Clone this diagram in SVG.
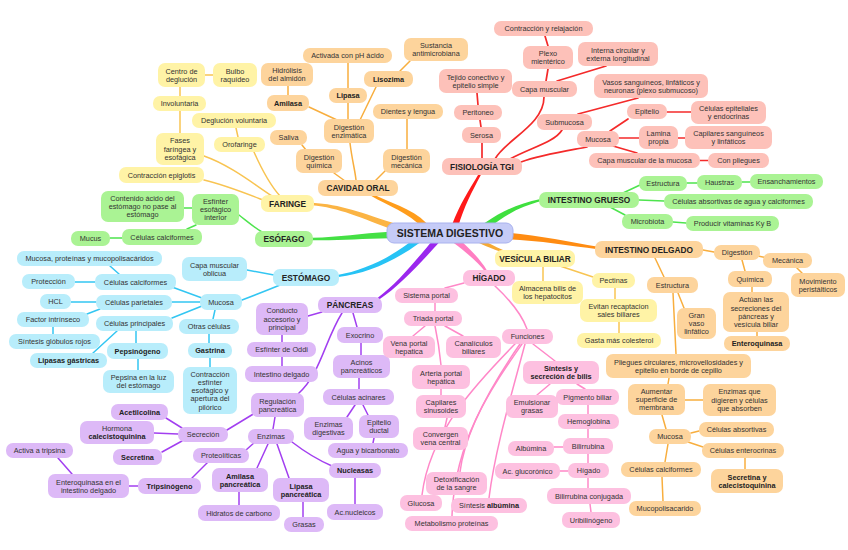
<svg xmlns="http://www.w3.org/2000/svg" width="848" height="550" viewBox="0 0 848 550">
<style>
text{font-family:"Liberation Sans",Arial,Helvetica,sans-serif;font-size:7.3px;fill:#333;text-anchor:middle}
.b{font-weight:bold;fill:#222}
.cat text{font-size:8.3px;font-weight:bold;fill:#222}
rect{rx:7px;ry:7px}
.y rect{fill:#fff3a6}.o rect{fill:#fdd49c}.r rect{fill:#fdc1b9}.g rect{fill:#aaf394}.bl rect{fill:#b8edfb}.p rect{fill:#ddb9f7}.k rect{fill:#fdc0e0}
#center rect{fill:#c5cbf7;stroke:#a9b2ee;stroke-width:1}
#center text{font-size:10.5px;font-weight:bold;fill:#222}
#connectors path{fill:none;stroke-linecap:round}
#connectors path.m{stroke:none}
.ly{stroke:#f8c452;stroke-width:1.5}.lo{stroke:#f8ae3e;stroke-width:1.5}.lr{stroke:#f42a2a;stroke-width:1.7}.lg{stroke:#4ee44e;stroke-width:1.5}.lb{stroke:#33c6f2;stroke-width:1.5}.lp{stroke:#a23ff0;stroke-width:1.5}.lk{stroke:#ff88c8;stroke-width:1.5}
</style>
<rect x="0" y="0" width="848" height="550" fill="#fff" style="rx:0"/>
<g id="connectors">
<!-- main branches (tapered) -->
<path class="m" style="fill:#ff1a1a" d="M457.9,227.4 C464.3,206.1 471.5,192.7 481.1,174.5 L478.9,173.5 C468.5,191.3 459.8,203.9 452.1,224.6 Z"/>
<path class="m" style="fill:#ff9d1c" d="M426.6,223.2 C411.3,207.8 388.9,202.5 372.6,194 L371.4,196 C387.1,205.5 408.7,212.2 423.4,228.8 Z"/>
<path class="m" style="fill:#fbb444" d="M398.9,224.9 C360.7,212.6 340.5,204.4 312.3,202.8 L311.7,205.2 C339.5,207.6 359.3,217.4 397.1,231.1 Z"/>
<path class="m" style="fill:#44e044" d="M390,231.8 C360,233.5 340,237.3 312,237.8 L312,240.2 C340,240.7 360,238.5 390,238.2 Z"/>
<path class="m" style="fill:#27c3f5" d="M419.3,242.9 C393,262.3 365.7,273.6 338.5,277.1 L337.5,274.9 C364.3,270.5 391,257.7 416.7,237.1 Z"/>
<path class="m" style="fill:#9b27ee" d="M439.3,242.3 C419.8,263.8 399.2,286.2 378.8,299.8 L377.2,298.2 C396.8,283.8 416.2,260.2 434.7,237.7 Z"/>
<path class="m" style="fill:#ff7ec2" d="M457.3,237.7 C471.8,250.2 481.2,260.8 486.8,270.2 L485.2,271.8 C478.8,263.2 468.2,253.8 452.7,242.3 Z"/>
<path class="m" style="fill:#f6a933" d="M480.9,239 C490.7,244.4 497.6,247.7 505.4,251 L504.6,253 C496.4,250.3 489.3,247.7 479.1,243 Z"/>
<path class="m" style="fill:#ff8c12" d="M508.4,232.8 C540.3,235.5 570.2,242.3 598.2,246.8 L597.8,249.2 C569.8,245.7 539.7,240.5 507.6,239.2 Z"/>
<path class="m" style="fill:#3fe03f" d="M487.4,228.9 C506.1,214.3 520.7,206.5 541.5,201.1 L540.5,198.9 C519.3,203.5 503.9,209.7 484.6,223.1 Z"/>
<!-- faringe -->
<path class="ly" d="M204,156 C230,165 255,185 272,196"/>
<path class="ly" d="M254,152 C262,170 270,185 280,196"/>
<path class="ly" d="M204,180 C225,185 245,193 263,200"/>
<path class="ly" d="M205,75 L213,75"/>
<path class="ly" d="M180,87 L180,96"/>
<path class="ly" d="M180,111 L180,133"/>
<path class="ly" d="M236,128 L238,137"/>
<!-- cavidad oral -->
<path class="lo" d="M350,143 C352,160 355,170 356,180"/>
<path class="lo" d="M334,173 L345,181"/>
<path class="lo" d="M387,169 L375,181"/>
<path class="lo" d="M348,63 L348,88"/>
<path class="lo" d="M348,103 L348,119"/>
<path class="lo" d="M410,61 L400,71"/>
<path class="lo" d="M376,87 L360,120"/>
<path class="lo" d="M288,86 L288,95"/>
<path class="lo" d="M309,107 L337,120"/>
<path class="lo" d="M302,145 L306,150"/>
<path class="lo" d="M407,119 L407,149"/>
<!-- fisiologia -->
<path class="lr" d="M544,97 C544,125 505,140 495,159"/>
<path class="lr" d="M562,130 C555,142 530,148 510,159"/>
<path class="lr" d="M587,147 C560,152 540,155 521,162"/>
<path class="lr" d="M482,143 L482,158"/>
<path class="lr" d="M480,120 L481,127"/>
<path class="lr" d="M477,93 L478,105"/>
<path class="lr" d="M545,36 L548,46"/>
<path class="lr" d="M548,69 L546,81"/>
<path class="lr" d="M606,66 L557,81"/>
<path class="lr" d="M638,98 L578,114"/>
<path class="lr" d="M628,119 L610,131"/>
<path class="lr" d="M667,112 L691,112"/>
<path class="lr" d="M619,138 L639,138"/>
<path class="lr" d="M678,138 L685,138"/>
<path class="lr" d="M613,146 L637,153"/>
<path class="lr" d="M700,160.5 L708,160.5"/>
<!-- intestino grueso / esofago -->
<path class="lg" d="M623,193 L640,185"/>
<path class="lg" d="M639,200 L664,201"/>
<path class="lg" d="M610,207 L625,215"/>
<path class="lg" d="M687,183 L697,183"/>
<path class="lg" d="M742,182 L750,182"/>
<path class="lg" d="M673,222 L686,223"/>
<path class="lg" d="M239,215 C248,222 255,228 262,232"/>
<path class="lg" d="M184,208 L192,208"/>
<path class="lg" d="M196,225 L187,229"/>
<path class="lg" d="M110,238 L122,238"/>
<!-- estomago -->
<path class="lb" d="M247,270 L274,275"/>
<path class="lb" d="M242,300 C255,295 268,290 280,285"/>
<path class="lb" d="M110,266 L119,274"/>
<path class="lb" d="M75,282 L95,282"/>
<path class="lb" d="M172,287 L202,298"/>
<path class="lb" d="M71,302 L96,302"/>
<path class="lb" d="M172,302 L200,302"/>
<path class="lb" d="M87,314 L100,309"/>
<path class="lb" d="M53,327 L53,334"/>
<path class="lb" d="M172,318 L202,306"/>
<path class="lb" d="M117,331 L93,353"/>
<path class="lb" d="M136,331 L136,343"/>
<path class="lb" d="M138,359 L138,370"/>
<path class="lb" d="M215,310 L213,319"/>
<path class="lb" d="M209,334 L209,343"/>
<path class="lb" d="M210,358 L210,367"/>
<!-- pancreas -->
<path class="lp" d="M322,312 L308,316"/>
<path class="lp" d="M342,313 C325,340 320,375 298,394"/>
<path class="lp" d="M353,313 L357,327"/>
<path class="lp" d="M282,335 L282,342"/>
<path class="lp" d="M282,357 L282,366"/>
<path class="lp" d="M361,343 L361,355"/>
<path class="lp" d="M359,378 L359,389"/>
<path class="lp" d="M355,405 L347,417"/>
<path class="lp" d="M363,405 L368,415"/>
<path class="lp" d="M374,438 L373,443"/>
<path class="lp" d="M255,413 L227,430"/>
<path class="lp" d="M275,417 L273,429"/>
<path class="lp" d="M182,428 L166,418"/>
<path class="lp" d="M178,434 L154,433"/>
<path class="lp" d="M182,441 L162,452"/>
<path class="lp" d="M255,442 L246,450"/>
<path class="lp" d="M207,463 L192,478"/>
<path class="lp" d="M129,486 L138,486"/>
<path class="lp" d="M72,474 L58,458"/>
<path class="lp" d="M268,444 L257,468"/>
<path class="lp" d="M277,444 L289,478"/>
<path class="lp" d="M292,442 C305,452 318,460 332,466"/>
<path class="lp" d="M239,492 L239,505"/>
<path class="lp" d="M303,502 L303,517"/>
<path class="lp" d="M355,478 L355,504"/>
<!-- higado -->
<path class="lk" d="M464,283 L445,288"/>
<path class="lk" d="M495,286 C510,300 522,315 527,329"/>
<path class="lk" d="M435,303 L435,311"/>
<path class="lk" d="M425,326 L413,336"/>
<path class="lk" d="M445,326 L463,336"/>
<path class="lk" d="M435,326 C438,340 440,355 441,365"/>
<path class="lk" d="M441,389 L441,395"/>
<path class="lk" d="M447,418 L445,427"/>
<path class="lk" d="M515,344 C480,380 430,430 422,495"/>
<path class="lk" d="M520,344 C495,380 465,430 460,472"/>
<path class="lk" d="M522,344 C490,390 455,440 452,516"/>
<path class="lk" d="M525,344 C510,400 495,450 489,498"/>
<path class="lk" d="M533,344 L555,361"/>
<path class="lk" d="M550,384 L537,395"/>
<path class="lk" d="M577,384 L585,389"/>
<path class="lk" d="M588,405 L588,414"/>
<path class="lk" d="M588,429 L588,438"/>
<path class="lk" d="M554,447 L563,447"/>
<path class="lk" d="M588,454 L588,463"/>
<path class="lk" d="M560,471 L568,471"/>
<path class="lk" d="M588,478 L588,488"/>
<path class="lk" d="M590,504 L591,512"/>
<!-- intestino delgado -->
<path class="lo" d="M703,250 L714,252"/>
<path class="lo" d="M655,258 L664,277"/>
<path class="lo" d="M758,256 L767,258"/>
<path class="lo" d="M742,260 L745,271"/>
<path class="lo" d="M797,268 L802,273"/>
<path class="lo" d="M752,287 L752,292"/>
<path class="lo" d="M757,332 L757,336"/>
<path class="lo" d="M678,293 L684,308"/>
<path class="lo" d="M673,293 L676,354"/>
<path class="lo" d="M669,378 L668,384"/>
<path class="lo" d="M685,400 L703,400"/>
<path class="lo" d="M662,415 L666,429"/>
<path class="lo" d="M691,433 L699,431"/>
<path class="lo" d="M688,442 L703,447"/>
<path class="lo" d="M745,458 L745,469"/>
<path class="lo" d="M668,444 L665,462"/>
<path class="lo" d="M662,477 L663,501"/>
<!-- vesicula -->
<path class="ly" d="M543,267 L543,281"/>
<path class="ly" d="M560,266 L593,277"/>
<path class="ly" d="M615,288 L615,299"/>
<path class="ly" d="M619,322 L619,333"/>
</g>

<g id="center"><rect x="387" y="223" width="126" height="20" rx="8"/><text x="450" y="236.8">SISTEMA DIGESTIVO</text></g>

<!-- categories -->
<g id="cavidad-oral" class="cat o"><rect x="318" y="180" width="80" height="16"/><text x="358" y="191">CAVIDAD ORAL</text></g>
<g id="faringe" class="cat y"><rect x="261" y="195" width="53" height="17"/><text x="287.5" y="206.5">FARINGE</text></g>
<g id="esofago" class="cat g"><rect x="255" y="231" width="58" height="16"/><text x="284" y="242">ESÓFAGO</text></g>
<g id="estomago" class="cat bl"><rect x="273" y="269" width="66" height="17"/><text x="306" y="280.5">ESTÓMAGO</text></g>
<g id="pancreas" class="cat p"><rect x="318" y="297" width="64" height="16"/><text x="350" y="308">PÁNCREAS</text></g>
<g id="higado" class="cat k"><rect x="463" y="270" width="52" height="16"/><text x="489" y="281">HÍGADO</text></g>
<g id="vesicula" class="cat y"><rect x="495" y="250" width="80" height="17"/><text x="535" y="261.5">VESÍCULA BILIAR</text></g>
<g id="int-delgado" class="cat o"><rect x="595" y="241" width="108" height="17"/><text x="649" y="252.5">INTESTINO DELGADO</text></g>
<g id="int-grueso" class="cat g"><rect x="539" y="192" width="100" height="16"/><text x="589" y="203">INTESTINO GRUESO</text></g>
<g id="fisiologia" class="cat r"><rect x="442" y="158" width="80" height="17"/><text x="482" y="169.5">FISIOLOGÍA TGI</text></g>

<!-- faringe nodes -->
<g id="centro-deglucion" class="y"><rect x="158" y="63" width="47" height="24"/><text x="181.5" y="73.5">Centro de<tspan x="181.5" dy="8.2">deglución</tspan></text></g>
<g id="bulbo" class="y"><rect x="213" y="63" width="44" height="24"/><text x="235" y="73.5">Bulbo<tspan x="235" dy="8.2">raquídeo</tspan></text></g>
<g id="involuntaria" class="y"><rect x="153" y="96" width="53" height="15"/><text x="179.5" y="106.1">Involuntaria</text></g>
<g id="deglucion-voluntaria" class="y"><rect x="192" y="113" width="84" height="15"/><text x="234" y="123.1">Deglución voluntaria</text></g>
<g id="orofaringe" class="y"><rect x="214" y="137" width="51" height="15"/><text x="239.5" y="147.1">Orofaringe</text></g>
<g id="fases" class="y"><rect x="156" y="133" width="48" height="32"/><text x="180" y="143.4">Fases<tspan x="180" dy="8.2">faríngea y</tspan><tspan x="180" dy="8.2">esofágica</tspan></text></g>
<g id="contraccion-epiglotis" class="y"><rect x="119" y="167" width="85" height="16"/><text x="161.5" y="177.6">Contracción epiglotis</text></g>

<!-- cavidad oral nodes -->
<g id="activada" class="o"><rect x="303" y="48" width="89" height="15"/><text x="347.5" y="58.1">Activada con pH ácido</text></g>
<g id="sustancia" class="o"><rect x="404" y="38" width="64" height="23"/><text x="436" y="48">Sustancia<tspan x="436" dy="8.2">antimicrobiana</tspan></text></g>
<g id="hidrolisis" class="o"><rect x="261" y="63" width="52" height="23"/><text x="287" y="73">Hidrólisis<tspan x="287" dy="8.2">del almidón</tspan></text></g>
<g id="lisozima" class="o"><rect x="364" y="71" width="49" height="16"/><text class="b" x="388.5" y="81.6">Lisozima</text></g>
<g id="lipasa" class="o"><rect x="329" y="88" width="38" height="15"/><text class="b" x="348" y="98.1">Lipasa</text></g>
<g id="amilasa" class="o"><rect x="267" y="95" width="42" height="16"/><text class="b" x="288" y="105.6">Amilasa</text></g>
<g id="dientes" class="o"><rect x="373" y="104" width="70" height="15"/><text x="408" y="114.1">Dientes y lengua</text></g>
<g id="saliva" class="o"><rect x="270" y="130" width="37" height="15"/><text x="288.5" y="140.1">Saliva</text></g>
<g id="dig-enzimatica" class="o"><rect x="324" y="119" width="50" height="24"/><text x="349" y="129.5">Digestión<tspan x="349" dy="8.2">enzimática</tspan></text></g>
<g id="dig-quimica" class="o"><rect x="296" y="149" width="46" height="24"/><text x="319" y="159.5">Digestión<tspan x="319" dy="8.2">química</tspan></text></g>
<g id="dig-mecanica" class="o"><rect x="383" y="149" width="47" height="24"/><text x="406.5" y="159.5">Digestión<tspan x="406.5" dy="8.2">mecánica</tspan></text></g>

<!-- fisiologia nodes -->
<g id="contraccion-relajacion" class="r"><rect x="494" y="21" width="99" height="15"/><text x="543.5" y="31.1">Contracción y relajación</text></g>
<g id="plexo" class="r"><rect x="523" y="46" width="50" height="23"/><text x="548" y="56">Plexo<tspan x="548" dy="8.2">mientérico</tspan></text></g>
<g id="interna" class="r"><rect x="578" y="42" width="80" height="24"/><text x="618" y="52.5">Interna circular y<tspan x="618" dy="8.2">externa longitudinal</tspan></text></g>
<g id="capa-muscular" class="r"><rect x="512" y="81" width="65" height="16"/><text x="544.5" y="91.6">Capa muscular</text></g>
<g id="tejido" class="r"><rect x="439" y="69" width="73" height="24"/><text x="475.5" y="79.5">Tejido conectivo y<tspan x="475.5" dy="8.2">epitelio simple</tspan></text></g>
<g id="peritoneo" class="r"><rect x="454" y="105" width="48" height="15"/><text x="478" y="115.1">Peritoneo</text></g>
<g id="serosa" class="r"><rect x="462" y="127" width="39" height="16"/><text x="481.5" y="137.6">Serosa</text></g>
<g id="vasos" class="r"><rect x="594" y="74" width="114" height="24"/><text x="651" y="84.5">Vasos sanguíneos, linfáticos y<tspan x="651" dy="8.2">neuronas (plexo submucoso)</tspan></text></g>
<g id="submucosa" class="r"><rect x="537" y="114" width="55" height="16"/><text x="564.5" y="124.6">Submucosa</text></g>
<g id="epitelio" class="r"><rect x="627" y="104" width="40" height="15"/><text x="647" y="114.1">Epitelio</text></g>
<g id="celulas-epiteliales" class="r"><rect x="691" y="101" width="75" height="23"/><text x="728.5" y="111">Células epiteliales<tspan x="728.5" dy="8.2">y endocrinas</tspan></text></g>
<g id="mucosa-tgi" class="r"><rect x="577" y="131" width="42" height="16"/><text x="598" y="141.6">Mucosa</text></g>
<g id="lamina" class="r"><rect x="639" y="126" width="39" height="23"/><text x="658.5" y="136">Lamina<tspan x="658.5" dy="8.2">propia</tspan></text></g>
<g id="capilares-sang" class="r"><rect x="685" y="126" width="87" height="23"/><text x="728.5" y="136">Capilares sanguíneos<tspan x="728.5" dy="8.2">y linfáticos</tspan></text></g>
<g id="capa-muscular-mucosa" class="r"><rect x="589" y="153" width="111" height="15"/><text x="644.5" y="163.1">Capa muscular de la mucosa</text></g>
<g id="con-pliegues" class="r"><rect x="708" y="153" width="61" height="15"/><text x="738.5" y="163.1">Con pliegues</text></g>

<!-- intestino grueso nodes -->
<g id="estructura-ig" class="g"><rect x="639" y="176" width="48" height="15"/><text x="663" y="186.1">Estructura</text></g>
<g id="haustras" class="g"><rect x="697" y="175" width="45" height="15"/><text x="719.5" y="185.1">Haustras</text></g>
<g id="ensanchamientos" class="g"><rect x="750" y="174" width="73" height="15"/><text x="786.5" y="184.1">Ensanchamientos</text></g>
<g id="celulas-absortivas-agua" class="g"><rect x="664" y="194" width="149" height="15"/><text x="738.5" y="204.1">Células absortivas de agua y calciformes</text></g>
<g id="microbiota" class="g"><rect x="622" y="214" width="51" height="15"/><text x="647.5" y="224.1">Microbiota</text></g>
<g id="producir" class="g"><rect x="686" y="216" width="93" height="15"/><text x="732.5" y="226.1">Producir vitaminas Ky B</text></g>

<!-- esofago nodes -->
<g id="contenido" class="g"><rect x="101" y="191" width="83" height="31"/><text x="142.5" y="200.9">Contenido ácido del<tspan x="142.5" dy="8.2">estómago no pase al</tspan><tspan x="142.5" dy="8.2">estómago</tspan></text></g>
<g id="esfinter-esofagico" class="g"><rect x="192" y="194" width="47" height="31"/><text x="215.5" y="203.9">Esfínter<tspan x="215.5" dy="8.2">esofágico</tspan><tspan x="215.5" dy="8.2">interior</tspan></text></g>
<g id="calciformes-esof" class="g"><rect x="122" y="229" width="80" height="16"/><text x="162" y="239.6">Células calciformes</text></g>
<g id="mucus" class="g"><rect x="71" y="231" width="39" height="15"/><text x="90.5" y="241.1">Mucus</text></g>

<!-- estomago nodes -->
<g id="mucosa-proteinas" class="bl"><rect x="17" y="251" width="145" height="15"/><text x="89.5" y="261.1">Mucosa, proteínas y mucopolisacáridos</text></g>
<g id="proteccion" class="bl"><rect x="22" y="274" width="53" height="15"/><text x="48.5" y="284.1">Protección</text></g>
<g id="calciformes-est" class="bl"><rect x="95" y="274" width="81" height="16"/><text x="135.5" y="284.6">Células calciformes</text></g>
<g id="hcl" class="bl"><rect x="40" y="294" width="31" height="15"/><text x="55.5" y="304.1">HCL</text></g>
<g id="parietales" class="bl"><rect x="96" y="295" width="76" height="15"/><text x="134" y="305.1">Células parietales</text></g>
<g id="factor" class="bl"><rect x="17" y="312" width="72" height="15"/><text x="53" y="322.1">Factor intrínseco</text></g>
<g id="principales" class="bl"><rect x="96" y="316" width="77" height="15"/><text x="134.5" y="326.1">Células principales</text></g>
<g id="sintesis-globulos" class="bl"><rect x="9" y="334" width="91" height="15"/><text x="54.5" y="344.1">Síntesis glóbulos rojos</text></g>
<g id="lipasas-gastricas" class="bl"><rect x="30" y="353" width="77" height="15"/><text class="b" x="68.5" y="363.1">Lipasas gástricas</text></g>
<g id="pepsinogeno" class="bl"><rect x="107" y="343" width="61" height="16"/><text class="b" x="137.5" y="353.6">Pepsinógeno</text></g>
<g id="pepsina" class="bl"><rect x="103" y="370" width="71" height="23"/><text x="138.5" y="380">Pepsina en la luz<tspan x="138.5" dy="8.2">del estómago</tspan></text></g>
<g id="mucosa-est" class="bl"><rect x="200" y="294" width="42" height="16"/><text x="221" y="304.6">Mucosa</text></g>
<g id="otras-celulas" class="bl"><rect x="179" y="319" width="60" height="15"/><text x="209" y="329.1">Otras células</text></g>
<g id="gastrina" class="bl"><rect x="188" y="343" width="44" height="15"/><text class="b" x="210" y="353.1">Gastrina</text></g>
<g id="contraccion-esfinter" class="bl"><rect x="183" y="367" width="54" height="47"/><text x="210" y="376.7">Contracción<tspan x="210" dy="8.2">esfínter</tspan><tspan x="210" dy="8.2">esofágico y</tspan><tspan x="210" dy="8.2">apertura del</tspan><tspan x="210" dy="8.2">pilórico</tspan></text></g>
<g id="capa-oblicua" class="bl"><rect x="182" y="257" width="65" height="24"/><text x="214.5" y="267.5">Capa muscular<tspan x="214.5" dy="8.2">oblicua</tspan></text></g>

<!-- pancreas nodes -->
<g id="conducto" class="p"><rect x="256" y="303" width="52" height="32"/><text x="282" y="313.4">Conducto<tspan x="282" dy="8.2">accesorio y</tspan><tspan x="282" dy="8.2">principal</tspan></text></g>
<g id="oddi" class="p"><rect x="247" y="342" width="69" height="15"/><text x="281.5" y="352.1">Esfínter de Oddi</text></g>
<g id="intestino-delgado-p" class="p"><rect x="245" y="366" width="73" height="16"/><text x="281.5" y="376.6">Intestino delgado</text></g>
<g id="exocrino" class="p"><rect x="337" y="327" width="46" height="16"/><text x="360" y="337.6">Exocrino</text></g>
<g id="acinos" class="p"><rect x="333" y="355" width="57" height="23"/><text x="361.5" y="365">Acinos<tspan x="361.5" dy="8.2">pancreáticos</tspan></text></g>
<g id="acinares" class="p"><rect x="323" y="389" width="71" height="16"/><text x="358.5" y="399.6">Células acinares</text></g>
<g id="regulacion" class="p"><rect x="251" y="393" width="53" height="24"/><text x="277.5" y="403.5">Regulación<tspan x="277.5" dy="8.2">pancreática</tspan></text></g>
<g id="enzimas-digestivas" class="p"><rect x="304" y="417" width="49" height="23"/><text x="328.5" y="427">Enzimas<tspan x="328.5" dy="8.2">digestivas</tspan></text></g>
<g id="epitelio-ductal" class="p"><rect x="359" y="415" width="40" height="23"/><text x="379" y="425">Epitelio<tspan x="379" dy="8.2">ductal</tspan></text></g>
<g id="agua" class="p"><rect x="328" y="443" width="80" height="15"/><text x="368" y="453.1">Agua y bicarbonato</text></g>
<g id="secrecion" class="p"><rect x="178" y="427" width="50" height="15"/><text x="203" y="437.1">Secreción</text></g>
<g id="enzimas" class="p"><rect x="248" y="429" width="46" height="15"/><text x="271" y="439.1">Enzimas</text></g>
<g id="proteoliticas" class="p"><rect x="193" y="448" width="56" height="15"/><text x="221" y="458.1">Proteolíticas</text></g>
<g id="amilasa-pan" class="p"><rect x="212" y="468" width="56" height="24"/><text class="b" x="240" y="478.5">Amilasa<tspan x="240" dy="8.2">pancreática</tspan></text></g>
<g id="lipasa-pan" class="p"><rect x="273" y="478" width="56" height="24"/><text class="b" x="301" y="488.5">Lipasa<tspan x="301" dy="8.2">pancreática</tspan></text></g>
<g id="nucleasas" class="p"><rect x="329" y="463" width="52" height="15"/><text class="b" x="355" y="473.1">Nucleasas</text></g>
<g id="hidratos" class="p"><rect x="198" y="505" width="82" height="16"/><text x="239" y="515.6">Hidratos de carbono</text></g>
<g id="grasas" class="p"><rect x="284" y="517" width="40" height="15"/><text x="304" y="527.1">Grasas</text></g>
<g id="acnucleicos" class="p"><rect x="327" y="504" width="56" height="16"/><text x="355" y="514.6">Ac.nucleicos</text></g>
<g id="acetilcolina" class="p"><rect x="111" y="404" width="57" height="16"/><text class="b" x="139.5" y="414.6">Acetilcolina</text></g>
<g id="hormona" class="p"><rect x="80" y="421" width="74" height="23"/><text x="117" y="431">Hormona<tspan class="b" x="117" dy="8.2">calecistoquinina</tspan></text></g>
<g id="secretina" class="p"><rect x="113" y="449" width="49" height="16"/><text class="b" x="137.5" y="459.6">Secretina</text></g>
<g id="activa" class="p"><rect x="6" y="443" width="67" height="15"/><text x="39.5" y="453.1">Activa a tripsina</text></g>
<g id="enteroquinasa-int" class="p"><rect x="48" y="474" width="81" height="24"/><text x="88.5" y="484.5">Enteroquinasa en el<tspan x="88.5" dy="8.2">intestino delgado</tspan></text></g>
<g id="tripsinogeno" class="p"><rect x="138" y="478" width="63" height="16"/><text class="b" x="169.5" y="488.6">Tripsinógeno</text></g>

<!-- higado nodes -->
<g id="sistema-portal" class="k"><rect x="395" y="288" width="63" height="15"/><text x="426.5" y="298.1">Sistema portal</text></g>
<g id="triada" class="k"><rect x="404" y="311" width="58" height="15"/><text x="433" y="321.1">Triada portal</text></g>
<g id="vena-portal" class="k"><rect x="383" y="336" width="52" height="22"/><text x="409" y="345.5">Vena portal<tspan x="409" dy="8.2">hepatica</tspan></text></g>
<g id="canaliculos" class="k"><rect x="446" y="336" width="55" height="22"/><text x="473.5" y="345.5">Canalículos<tspan x="473.5" dy="8.2">biliares</tspan></text></g>
<g id="funciones" class="k"><rect x="502" y="329" width="51" height="15"/><text x="527.5" y="339.1">Funciones</text></g>
<g id="arteria" class="k"><rect x="412" y="365" width="58" height="24"/><text x="441" y="375.5">Arteria portal<tspan x="441" dy="8.2">hepática</tspan></text></g>
<g id="capilares-sin" class="k"><rect x="416" y="395" width="50" height="23"/><text x="441" y="405">Capilares<tspan x="441" dy="8.2">sinusoides</tspan></text></g>
<g id="convergen" class="k"><rect x="413" y="427" width="55" height="23"/><text x="440.5" y="437">Convergen<tspan x="440.5" dy="8.2">vena central</tspan></text></g>
<g id="sintesis-bilis" class="k"><rect x="523" y="361" width="76" height="23"/><text class="b" x="561" y="371">Síntesis y<tspan x="561" dy="8.2">secreción de bilis</tspan></text></g>
<g id="emulsionar" class="k"><rect x="506" y="395" width="52" height="23"/><text x="532" y="405">Emulsionar<tspan x="532" dy="8.2">grasas</tspan></text></g>
<g id="pigmento" class="k"><rect x="556" y="389" width="63" height="16"/><text x="587.5" y="399.6">Pigmento biliar</text></g>
<g id="hemoglobina" class="k"><rect x="558" y="414" width="61" height="15"/><text x="588.5" y="424.1">Hemoglobina</text></g>
<g id="bilirrubina" class="k"><rect x="563" y="438" width="50" height="16"/><text x="588" y="448.6">Bilirrubina</text></g>
<g id="albumina" class="k"><rect x="508" y="441" width="46" height="15"/><text x="531" y="451.1">Albúmina</text></g>
<g id="higado-n" class="k"><rect x="568" y="463" width="41" height="15"/><text x="588.5" y="473.1">Hígado</text></g>
<g id="glucoronico" class="k"><rect x="495" y="463" width="65" height="16"/><text x="527.5" y="473.6">Ac. glucorónico</text></g>
<g id="bilirrubina-conj" class="k"><rect x="547" y="488" width="84" height="16"/><text x="589" y="498.6">Bilirrubina conjugada</text></g>
<g id="uribilinogeno" class="k"><rect x="562" y="512" width="58" height="16"/><text x="591" y="522.6">Uribilinógeno</text></g>
<g id="detox" class="k"><rect x="426" y="472" width="61" height="23"/><text x="456.5" y="482">Detoxificación<tspan x="456.5" dy="8.2">de la sangre</tspan></text></g>
<g id="glucosa" class="k"><rect x="400" y="495" width="42" height="16"/><text x="421" y="505.6">Glucosa</text></g>
<g id="sintesis-albumina" class="k"><rect x="451" y="498" width="76" height="15"/><text x="489" y="508.1">Síntesis <tspan class="b">albúmina</tspan></text></g>
<g id="metabolismo" class="k"><rect x="405" y="516" width="93" height="15"/><text x="451.5" y="526.1">Metabolismo proteínas</text></g>

<!-- vesicula nodes -->
<g id="almacena" class="y"><rect x="512" y="281" width="71" height="23"/><text x="547.5" y="291">Almacena bilis de<tspan x="547.5" dy="8.2">los hepatocitos</tspan></text></g>
<g id="pectinas" class="y"><rect x="592" y="273" width="43" height="15"/><text x="613.5" y="283.1">Pectinas</text></g>
<g id="evitan" class="y"><rect x="580" y="299" width="77" height="23"/><text x="618.5" y="309">Evitan recaptacion<tspan x="618.5" dy="8.2">sales biliares</tspan></text></g>
<g id="gasta" class="y"><rect x="577" y="333" width="84" height="15"/><text x="619" y="343.1">Gasta más colesterol</text></g>

<!-- intestino delgado nodes -->
<g id="digestion-id" class="o"><rect x="714" y="245" width="46" height="15"/><text x="737" y="255.1">Digestión</text></g>
<g id="mecanica" class="o"><rect x="763" y="253" width="49" height="15"/><text x="787.5" y="263.1">Mecánica</text></g>
<g id="quimica" class="o"><rect x="728" y="271" width="44" height="16"/><text x="750" y="281.6">Química</text></g>
<g id="movimiento" class="o"><rect x="791" y="273" width="54" height="24"/><text x="818" y="283.5">Movimiento<tspan x="818" dy="8.2">peristálticos</tspan></text></g>
<g id="actuan" class="o"><rect x="723" y="292" width="66" height="40"/><text x="756" y="302.3">Actúan las<tspan x="756" dy="8.2">secreciones del</tspan><tspan x="756" dy="8.2">páncreas y</tspan><tspan x="756" dy="8.2">vesícula biliar</tspan></text></g>
<g id="enteroquinasa" class="o"><rect x="724" y="336" width="66" height="15"/><text class="b" x="757" y="346.1">Enteroquinasa</text></g>
<g id="estructura-id" class="o"><rect x="647" y="277" width="51" height="16"/><text x="672.5" y="287.6">Estructura</text></g>
<g id="gran-vaso" class="o"><rect x="677" y="308" width="39" height="31"/><text x="696.5" y="317.9">Gran<tspan x="696.5" dy="8.2">vaso</tspan><tspan x="696.5" dy="8.2">linfático</tspan></text></g>
<g id="pliegues" class="o"><rect x="606" y="354" width="145" height="24"/><text x="678.5" y="364.5">Pliegues circulares, microvellosidades y<tspan x="678.5" dy="8.2">epitelio en borde de cepillo</tspan></text></g>
<g id="aumentar" class="o"><rect x="628" y="384" width="57" height="31"/><text x="656.5" y="393.9">Aumentar<tspan x="656.5" dy="8.2">superficie de</tspan><tspan x="656.5" dy="8.2">membrana</tspan></text></g>
<g id="enzimas-que" class="o"><rect x="703" y="384" width="73" height="32"/><text x="739.5" y="394.4">Enzimas que<tspan x="739.5" dy="8.2">digieren y células</tspan><tspan x="739.5" dy="8.2">que absorben</tspan></text></g>
<g id="mucosa-id" class="o"><rect x="649" y="429" width="42" height="15"/><text x="670" y="439.1">Mucosa</text></g>
<g id="absortivas" class="o"><rect x="699" y="422" width="75" height="15"/><text x="736.5" y="432.1">Células absortivas</text></g>
<g id="enterocrinas" class="o"><rect x="702" y="443" width="82" height="15"/><text x="743" y="453.1">Células enterocrinas</text></g>
<g id="secretina-cal" class="o"><rect x="711" y="469" width="72" height="24"/><text class="b" x="747" y="479.5">Secretina y<tspan x="747" dy="8.2">calecistoquinina</tspan></text></g>
<g id="calciformes-id" class="o"><rect x="621" y="462" width="80" height="15"/><text x="661" y="472.1">Células calciformes</text></g>
<g id="mucopolisacarido" class="o"><rect x="629" y="501" width="72" height="15"/><text x="665" y="511.1">Mucopolisacarido</text></g>
</svg>
